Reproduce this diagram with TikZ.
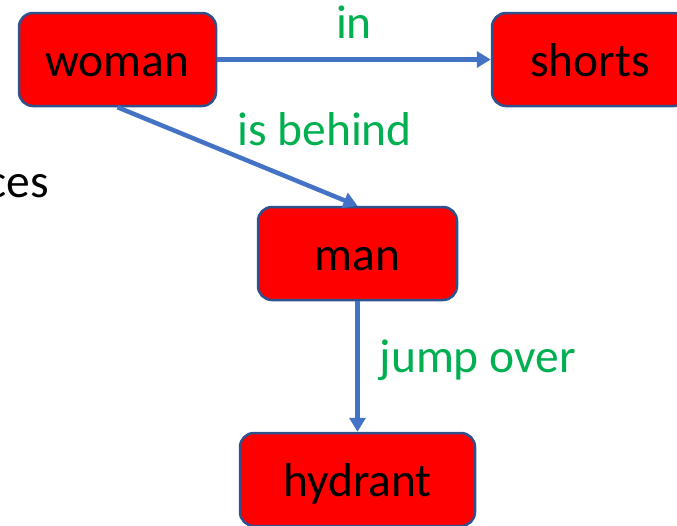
\documentclass[tikz,border=0pt]{standalone}
\usepackage{fontspec}
\setmainfont{Carlito}
\usetikzlibrary{arrows.meta}
\definecolor{boxred}{HTML}{FF0000}
\definecolor{boxline}{HTML}{2F528F}
\definecolor{relblue}{HTML}{4472C4}
\definecolor{relgreen}{HTML}{00B050}
\begin{document}
\begin{tikzpicture}[x=1pt, y=-1pt, >={Triangle[length=14pt,width=16pt]},
		font=\fontsize{47.5}{52}\selectfont,
		obj/.style={draw=boxline, line width=2.5pt, fill=boxred, rounded corners=14pt,
			minimum height=93pt, inner sep=0pt, text height=33pt, text depth=0pt},
		rel/.style={->, draw=relblue, line width=4.5pt},
		lab/.style={text=relgreen, inner sep=0pt}]
	\useasboundingbox (0,0) rectangle (677,525);
	\clip (0,0) rectangle (677,525);
	% objects
	\node[obj, minimum width=197pt] (woman) at (117.5,59.5) {woman};
	\node[obj, minimum width=196pt] (shorts) at (590,59.5) {shorts};
	\node[obj, minimum width=199pt] (man) at (357.5,253.5) {man};
	\node[obj, minimum width=235pt] (hydrant) at (357.5,479.5) {hydrant};
	\node[anchor=base east, inner sep=0pt] (ces) at (49,197) {ces};
	% relations
	\draw[rel] (woman) -- (shorts) node[lab, midway, above=19pt] {in};
	\draw[rel] (woman.south) -- (man.north) node[lab, pos=.49, anchor=base west, yshift=10.5pt] {is behind};
	\draw[rel] (man.south) -- (hydrant.north) node[lab, midway, anchor=base west, xshift=20pt, yshift=-5.5pt] {jump over};
\end{tikzpicture}
\end{document}
